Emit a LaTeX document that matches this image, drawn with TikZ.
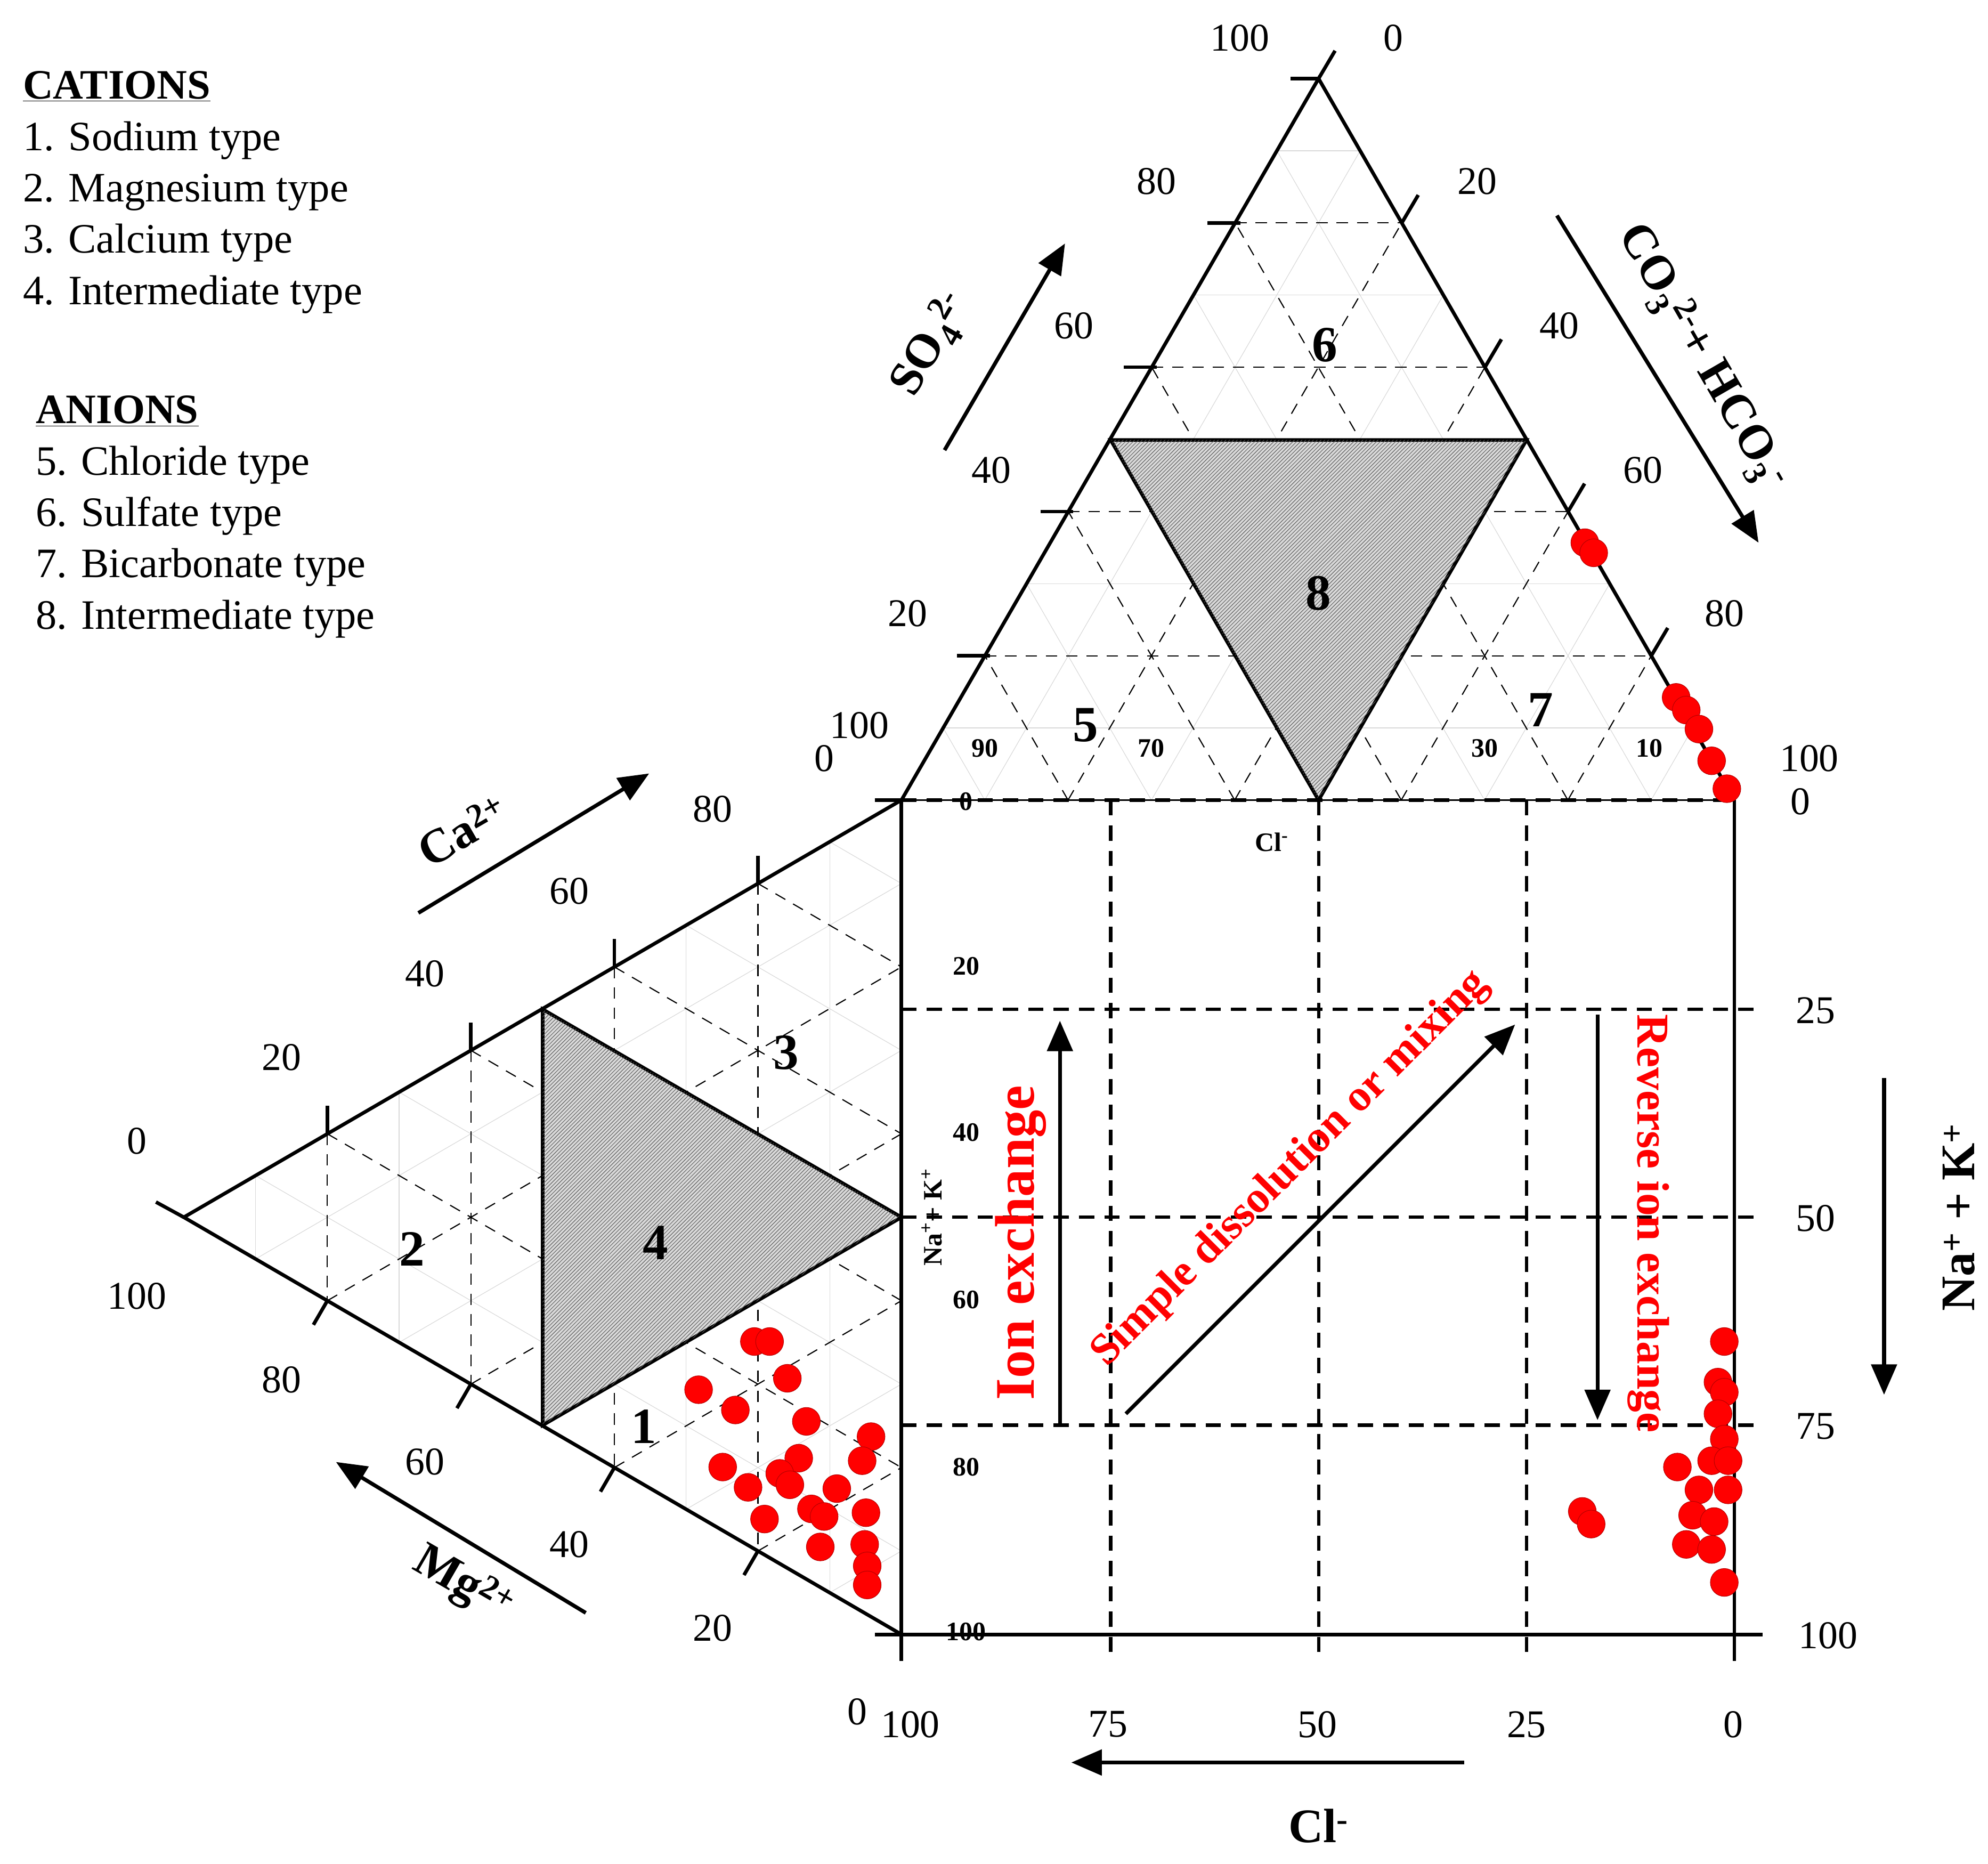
\documentclass[tikz,border=0pt]{standalone}
\usepackage{fontspec}
\setmainfont{Liberation Serif}
\usetikzlibrary{calc,patterns,arrows.meta}
\begin{document}
\begin{tikzpicture}[x=1pt,y=-1pt,
  main/.style={line width=2.8pt},
  grid/.style={dashed,line width=0.9pt,dash pattern=on 9pt off 7pt},
  fine/.style={gray!30,line width=0.5pt},
  bigdash/.style={line width=2.6pt,dash pattern=on 12pt off 8pt},
  num/.style={font=\fontsize{31}{31}\selectfont},
  sm/.style={font=\fontsize{21}{21}\selectfont},
  lab/.style={font=\bfseries\fontsize{38}{38}\selectfont},
  red lab/.style={font=\bfseries\fontsize{44}{44}\selectfont,text=red},
  ar/.style={line width=3pt,-{Triangle[length=24pt,width=20pt]}},
  pt/.style={fill=red,draw=red!70!black,line width=0.4pt},
  hatch/.style={fill=gray!30,postaction={pattern=north east lines,pattern color=black!65}}]
\useasboundingbox (0,0) rectangle (1568,1470);
\coordinate (A) at (711,631); \coordinate (B) at (1368,631); \coordinate (C) at (1040,62);
\coordinate (P) at (145,960); \coordinate (Q) at (711,631); \coordinate (R) at (711,1289);
\foreach \t in {0.1,0.3,0.5,0.7,0.9}{
 \draw[fine] ($(A)!\t!(C)$)--($(B)!\t!(C)$); \draw[fine] ($(A)!\t!(B)$)--($(C)!\t!(B)$); \draw[fine] ($(B)!\t!(A)$)--($(C)!\t!(A)$);
 \draw[fine] ($(P)!\t!(Q)$)--($(R)!\t!(Q)$); \draw[fine] ($(P)!\t!(R)$)--($(Q)!\t!(R)$); \draw[fine] ($(Q)!\t!(P)$)--($(R)!\t!(P)$);}
\foreach \t in {0.2,0.4,0.6,0.8}{
 \draw[grid] ($(A)!\t!(C)$)--($(B)!\t!(C)$); \draw[grid] ($(A)!\t!(B)$)--($(C)!\t!(B)$); \draw[grid] ($(B)!\t!(A)$)--($(C)!\t!(A)$);
 \draw[grid] ($(P)!\t!(Q)$)--($(R)!\t!(Q)$); \draw[grid] ($(P)!\t!(R)$)--($(Q)!\t!(R)$); \draw[grid] ($(Q)!\t!(P)$)--($(R)!\t!(P)$);
 \draw[main] ($(A)!\t!(C)+(-22,0)$)--($(A)!\t!(C)+(4,0)$);
 \draw[main] ($(B)!\t!(C)$)--++(13,-22);
 \draw[main] ($(P)!\t!(Q)$)--++(0,-22);
 \draw[main] ($(P)!\t!(R)$)--++(-11,19);}
\draw[main] (C)--++(-22,0); \draw[main] (C)--++(13,-22);
\draw[main] (P)--++(-22,-12);
\draw[main,hatch] (876,347)--(1204,347)--(1040,631)--cycle;
\draw[main,hatch] (428,796)--(428,1124)--(711,960)--cycle;
\draw[main] (A)--(C)--(B); \draw[line width=1pt] (A)--(B);
\draw[main] (Q)--(P)--(R);
\draw[bigdash] (A)--(B);
\foreach \x in {876,1040,1204} \draw[bigdash] (\x,631)--(\x,1310);
\foreach \y in {796,960,1124} \draw[bigdash] (711,\y)--(1390,\y);
\draw[main] (711,631)--(711,1310); \draw[main] (690,1289)--(1390,1289); \draw[main] (1368,631)--(1368,1310);
\draw[main] (690,631)--(711,631);
\foreach \p/\s in {{(912,143)}/80,{(847,257)}/60,{(782,371)}/40,{(716,484)}/20,{(678,572)}/100,{(650,598)}/0,
 {(1099,30)}/0,{(978,30)}/100,{(1165,143)}/20,{(1230,257)}/40,{(1296,371)}/60,{(1360,484)}/80,{(1427,598)}/100,{(1420,632)}/0,
 {(562,638)}/80,{(449,703)}/60,{(335,768)}/40,{(222,834)}/20,{(108,900)}/0,{(108,1022)}/100,{(222,1088)}/80,{(335,1153)}/60,{(449,1218)}/40,{(562,1284)}/20,{(676,1350)}/0,
 {(1432,797)}/25,{(1432,961)}/50,{(1432,1125)}/75,{(1442,1290)}/100,
 {(718,1360)}/100,{(874,1360)}/75,{(1039,1360)}/50,{(1204,1360)}/25,{(1367,1360)}/0}
 \node[num] at \p {\s};
\foreach \p/\s in {{(777,590)}/90,{(908,590)}/70,{(1171,590)}/30,{(1301,590)}/10,{(762,632)}/0,
 {(762,762)}/20,{(762,893)}/40,{(762,1025)}/60,{(762,1157)}/80,{(762,1287)}/100}
 \node[sm] at \p {\textbf{\s}};
\node[sm] at (1003,664) {\textbf{Cl\textsuperscript{-}}};
\node[sm,rotate=90] at (735,960) {\textbf{Na\textsuperscript{+}+ K\textsuperscript{+}}};
\foreach \p/\s in {{(508,1125)}/1,{(325,985)}/2,{(620,830)}/3,{(517,980)}/4,{(856,572)}/5,{(1045,272)}/6,{(1215,560)}/7,{(1040,468)}/8}
 \node[font=\bfseries\fontsize{40}{40}\selectfont] at \p {\s};
\draw[ar] (1155,1390)--(845,1390); \node[lab] at (1040,1440) {Cl\textsuperscript{-}};
\draw[ar] (1486,850)--(1486,1100); \node[lab,rotate=90] at (1545,960) {Na\textsuperscript{+} + K\textsuperscript{+}};
\draw[ar] (330,720)--(512,610); \node[lab,rotate=30] at (365,655) {Ca\textsuperscript{2+}};
\draw[ar] (462,1272)--(265,1153); \node[lab,rotate=-30] at (365,1250) {Mg\textsuperscript{2+}};
\draw[ar] (745,355)--(840,192); \node[lab,rotate=60] at (735,272) {SO\textsubscript{4}\textsuperscript{2-}};
\draw[ar] (1228,170)--(1387,428); \node[lab,rotate=-60] at (1342,282) {CO\textsubscript{3}\textsuperscript{2-}+ HCO\textsubscript{3}\textsuperscript{-}};
\draw[ar] (836,1124)--(836,805); \node[red lab,rotate=90] at (805,980) {Ion exchange};
\draw[ar] (888,1115)--(1195,808); \node[red lab,rotate=45,font=\bfseries\fontsize{35}{35}\selectfont] at (1018,922) {Simple dissolution or mixing};
\draw[ar] (1260,800)--(1260,1120); \node[red lab,rotate=-90,font=\bfseries\fontsize{36}{36}\selectfont] at (1300,965) {Reverse ion exchange};
\node[anchor=north west,align=left,inner sep=0pt,font=\fontsize{33}{40.5}\selectfont] at (18,56) {\underline{\textbf{CATIONS}}\\1. Sodium type\\2. Magnesium type\\3. Calcium type\\4. Intermediate type};
\node[anchor=north west,align=left,inner sep=0pt,font=\fontsize{33}{40.5}\selectfont] at (28,312) {\underline{\textbf{ANIONS}}\\5. Chloride type\\6. Sulfate type\\7. Bicarbonate type\\8. Intermediate type};
\foreach \x/\y in {595/1058,607/1058,621/1087,551/1096,580/1112,636/1121,687/1133,570/1157,630/1150,615/1162,680/1152,590/1173,623/1171,660/1174,640/1190,603/1198,650/1196,683/1193,647/1220,682/1218,684/1235,684/1250,
 1250/428,1257/436,1322/550,1330/560,1340/575,1350/600,1362/622,
 1360/1058,1355/1090,1360/1098,1355/1115,1360/1135,1350/1152,1363/1152,1323/1157,1340/1175,1363/1175,1335/1195,1352/1200,1330/1218,1350/1222,1360/1248,1248/1192,1255/1202}
 \draw[pt] (\x,\y) circle (11);
\end{tikzpicture}
\end{document}
